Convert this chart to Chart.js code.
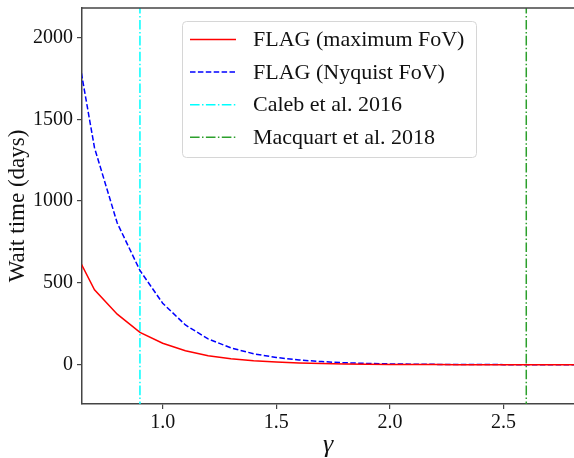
<!DOCTYPE html>
<html>
<head>
<meta charset="utf-8">
<script src="https://cdn.jsdelivr.net/npm/chart.js@4.4.0/dist/chart.umd.min.js"></script>
<style>
  body { margin: 0; background: #fff; }
</style>
</head>
<body>
<canvas id="waitChart" width="574" height="458"></canvas>
<script>
// gamma grid and wait times (days)
const gammaValues = [0.6, 0.7, 0.8, 0.9, 1.0, 1.1, 1.2, 1.3, 1.4, 1.5, 1.6, 1.7, 1.8, 1.9, 2.0, 2.1, 2.2, 2.3, 2.4, 2.5, 2.6, 2.7, 2.8, 2.9];
const maxFovWait = [730, 458, 309, 198, 131, 86, 55, 36, 24, 16, 10, 7, 4.5, 3, 2, 1.3, 0.9, 0.6, 0.4, 0.3, 0.2, 0.1, 0.1, 0.05];
const nyquistFovWait = [2116, 1326, 866, 576, 376, 243, 158, 103, 67, 44, 29, 19, 12, 8, 5, 3.4, 2.2, 1.5, 1, 0.6, 0.4, 0.3, 0.2, 0.1];

const calebGamma = 0.9;
const macquartGamma = 2.6;

const xTicks = [1.0, 1.5, 2.0, 2.5];
const yTicks = [0, 500, 1000, 1500, 2000];
const xRange = [0.645, 2.81];
const yRange = [-240, 2180];

const fontFamily = '"Liberation Serif", "DejaVu Serif", serif';
const axisColor = '#444';

function toPoints(xs, ys) {
    return xs.map((x, i) => ({ x: x, y: ys[i] }));
}

function verticalLine(x) {
    return [{ x: x, y: -10000 }, { x: x, y: 10000 }];
}

// legend box in the upper middle of the axes, matplotlib style
const legendBox = {
    id: 'legendBox',
    afterDraw(chart) {
        const ctx = chart.ctx;
        const area = chart.chartArea;
        const left = area.left + 100;
        const top = area.top + 13;
        const w = 294, h = 136;
        ctx.save();
        ctx.fillStyle = 'rgba(255,255,255,0.85)';
        ctx.strokeStyle = '#d6d6d6';
        ctx.lineWidth = 1;
        ctx.beginPath();
        ctx.roundRect(left + 0.5, top + 0.5, w, h, 4);
        ctx.fill();
        ctx.stroke();

        ctx.font = '22px ' + fontFamily;
        ctx.textBaseline = 'middle';
        chart.data.datasets.forEach((ds, i) => {
            const y = top + 18.5 + i * 32.6;
            ctx.strokeStyle = ds.borderColor;
            ctx.lineWidth = ds.borderWidth;
            ctx.setLineDash(ds.borderDash || []);
            ctx.beginPath();
            ctx.moveTo(left + 8, y);
            ctx.lineTo(left + 54, y);
            ctx.stroke();
            ctx.setLineDash([]);
            ctx.fillStyle = '#111';
            ctx.fillText(ds.label, left + 71, y + 1);
        });
        ctx.restore();
    }
};

// top spine
const topSpine = {
    id: 'topSpine',
    afterDraw(chart) {
        const ctx = chart.ctx;
        const area = chart.chartArea;
        ctx.save();
        ctx.strokeStyle = axisColor;
        ctx.lineWidth = 1.5;
        ctx.beginPath();
        ctx.moveTo(area.left, area.top);
        ctx.lineTo(area.right + 2, area.top);
        ctx.stroke();
        ctx.restore();
    }
};

window.onload = () => {
    const ctx = document.getElementById('waitChart').getContext('2d');
    new Chart(ctx, {
        type: 'scatter',
        data: {
            datasets: [
                {
                    label: 'FLAG (maximum FoV)',
                    data: toPoints(gammaValues, maxFovWait),
                    borderColor: '#ff0000',
                    borderWidth: 1.5,
                    showLine: true,
                    pointRadius: 0
                },
                {
                    label: 'FLAG (Nyquist FoV)',
                    data: toPoints(gammaValues, nyquistFovWait),
                    borderColor: '#0000ff',
                    borderWidth: 1.5,
                    borderDash: [5.5, 2.4],
                    showLine: true,
                    pointRadius: 0
                },
                {
                    label: 'Caleb et al. 2016',
                    data: verticalLine(calebGamma),
                    borderColor: '#00ffff',
                    borderWidth: 1.5,
                    borderDash: [9.6, 2.4, 1.5, 2.4],
                    showLine: true,
                    pointRadius: 0
                },
                {
                    label: 'Macquart et al. 2018',
                    data: verticalLine(macquartGamma),
                    borderColor: '#2ca02c',
                    borderWidth: 1.5,
                    borderDash: [9.6, 2.4, 1.5, 2.4],
                    showLine: true,
                    pointRadius: 0
                }
            ]
        },
        options: {
            responsive: false,
            animation: false,
            layout: { padding: { top: 8, right: -2, left: 0, bottom: 0 } },
            plugins: {
                legend: { display: false },
                tooltip: { enabled: false }
            },
            scales: {
                x: {
                    type: 'linear',
                    min: xRange[0],
                    max: xRange[1],
                    afterBuildTicks: (scale) => { scale.ticks = xTicks.map(v => ({ value: v })); },
                    afterFit: (scale) => {
                        scale.height = 54;
                        scale.paddingLeft = 0;
                        scale.paddingRight = 0;
                    },
                    ticks: {
                        color: '#111',
                        font: { family: fontFamily, size: 20 },
                        padding: 2,
                        maxRotation: 0,
                        callback: (v) => v.toFixed(1)
                    },
                    grid: { drawOnChartArea: false, tickLength: 5, color: axisColor, lineWidth: 1.2 },
                    border: { color: axisColor, width: 1.5 },
                    title: {
                        display: true,
                        text: 'γ',
                        color: '#111',
                        font: { family: fontFamily, size: 26, style: 'italic', lineHeight: 1.0 },
                        padding: { top: 0, bottom: 0 }
                    }
                },
                y: {
                    type: 'linear',
                    min: yRange[0],
                    max: yRange[1],
                    afterBuildTicks: (scale) => { scale.ticks = yTicks.map(v => ({ value: v })); },
                    afterFit: (scale) => {
                        scale.width = 82;
                        scale.paddingTop = 0;
                        scale.paddingBottom = 0;
                    },
                    ticks: {
                        color: '#111',
                        font: { family: fontFamily, size: 20 },
                        padding: 4,
                        callback: (v) => String(v)
                    },
                    grid: { drawOnChartArea: false, tickLength: 5, color: axisColor, lineWidth: 1.2 },
                    border: { color: axisColor, width: 1.5 },
                    title: {
                        display: true,
                        text: 'Wait time (days)',
                        color: '#111',
                        font: { family: fontFamily, size: 23 },
                        padding: { top: 4, bottom: 2 }
                    }
                }
            }
        },
        plugins: [legendBox, topSpine]
    });
};
</script>
</body>
</html>
